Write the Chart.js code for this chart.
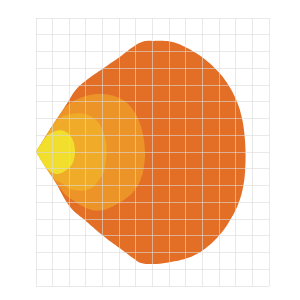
<!DOCTYPE html>
<html>
<head>
<meta charset="utf-8">
<script src="https://cdn.jsdelivr.net/npm/chart.js@4/dist/chart.umd.min.js"></script>
<style>
html,body{margin:0;padding:0;background:#fff;}
#wrap{width:300px;height:300px;}
</style>
</head>
<body>
<div id="wrap"><canvas id="c" width="300" height="300"></canvas></div>
<script>
// Contour outlines (x, y in grid units: x 0..14, y 0..16)
const outerX = [0,0.56,1.21,1.87,2.38,3.04,4.04,5.04,5.84,6.44,7.04,8.04,8.82,9.60,10.26,10.84,11.34,11.76,12.09,12.33,12.48,12.57,12.55,12.43,12.16,11.66,10.96,10.04,9.04,7.84,7.04,6.24,5.84,5.04,4.04,3.04,2.04,1.20,0.36,0];
const outerY = [8.02,8.91,9.91,10.91,11.70,12.30,13.00,13.69,14.29,14.59,14.63,14.59,14.33,13.91,13.43,12.89,12.30,11.64,10.92,10.15,9.31,8.12,6.93,5.93,4.96,3.96,2.98,2.15,1.65,1.39,1.31,1.39,1.65,2.25,2.99,3.84,4.73,6.13,7.52,8.02];

const midX = [0,1.62,2.16,2.64,3.24,3.84,4.44,4.92,5.40,5.82,6.18,6.42,6.54,6.48,6.27,5.88,5.44,4.86,4.26,3.84,3.36,2.64,2.16,1.68,0];
const midY = [8.02,10.51,10.98,11.22,11.40,11.46,11.40,11.25,10.98,10.51,9.85,9.01,8.02,7.16,6.33,5.67,5.25,4.90,4.60,4.51,4.54,4.84,5.16,5.53,8.02];

const innerX = [0,1.11,1.44,1.84,2.34,2.76,3.24,3.66,3.96,4.17,4.24,4.17,4.04,3.72,3.44,3.00,2.64,2.16,1.84,1.44,1.02,0];
const innerY = [8.02,9.73,10.03,10.21,10.30,10.30,10.15,9.85,9.37,8.72,8.02,7.34,6.73,6.27,5.93,5.73,5.69,5.76,5.93,6.21,6.45,8.02];

const coreX = [0,0.45,0.72,1.08,1.48,1.86,2.13,2.28,2.34,2.28,2.13,1.86,1.56,1.26,0.90,0.66,0.40,0];
const coreY = [8.02,8.72,9.01,9.21,9.30,9.15,8.87,8.51,8.02,7.58,7.22,6.95,6.76,6.69,6.81,7.01,7.33,8.02];

const xMin = 0, xMax = 14, yMin = 0, yMax = 16;

function pts(xs, ys){ return xs.map((x,i)=>({x:x, y:ys[i]})); }
function ds(xs, ys, color){
  return {data: pts(xs, ys), showLine: true, fill: 'shape', backgroundColor: color,
          borderWidth: 0, borderColor: color, pointRadius: 0, tension: 0.4};
}

new Chart(document.getElementById('c'), {
  type: 'scatter',
  data: { datasets: [
    ds(coreX, coreY, '#F2DE2C'),
    ds(innerX, innerY, '#F0AC28'),
    ds(midX, midY, '#EC9428'),
    ds(outerX, outerY, '#E36F27')
  ]},
  options: {
    responsive: false, animation: false,
    layout: {padding: {left: 36, top: 18, right: 30.7, bottom: 14}},
    plugins: {legend: {display: false}, tooltip: {enabled: false}},
    scales: {
      x: {type: 'linear', min: xMin, max: xMax,
          ticks: {display: false, stepSize: 1}, border: {display: false},
          grid: {color: 'rgba(218,218,218,0.6)', drawTicks: false, z: 1}},
      y: {type: 'linear', min: yMin, max: yMax,
          ticks: {display: false, stepSize: 1}, border: {display: false},
          grid: {color: 'rgba(218,218,218,0.6)', drawTicks: false, z: 1}}
    }
  }
});
</script>
</body>
</html>
